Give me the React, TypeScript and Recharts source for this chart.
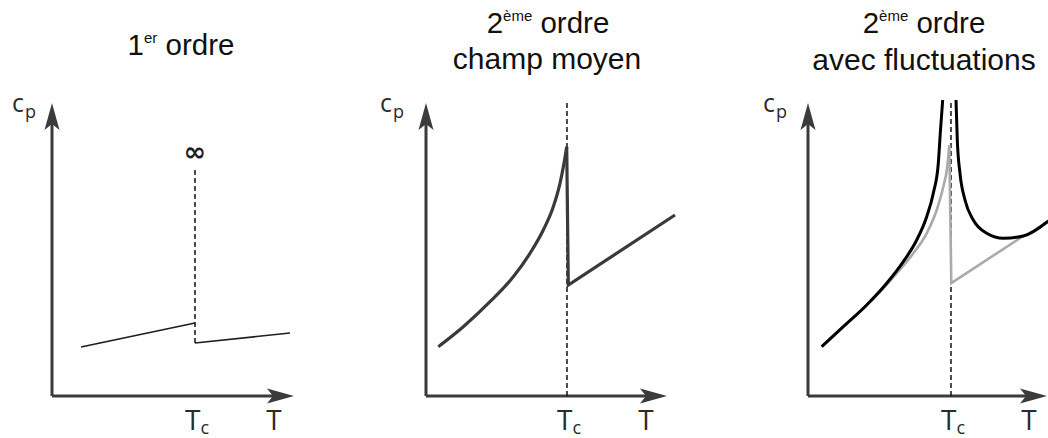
import { LineChart, Line, XAxis, YAxis, ReferenceLine, ReferenceDot } from "recharts";

// local units: T measured from the origin, cp measured up from the T axis
const firstBelow = [
  { t: 29, cp: 49 },
  { t: 143, cp: 73 },
];
const firstAbove = [
  { t: 143, cp: 53 },
  { t: 238, cp: 63 },
];

const meanBelow = [
  { t: 12.3, cp: 49.3 },
  { t: 37.3, cp: 69.3 },
  { t: 64, cp: 94.3 },
  { t: 87.3, cp: 119.3 },
  { t: 104, cp: 142.7 },
  { t: 117.3, cp: 166 },
  { t: 127.3, cp: 189.3 },
  { t: 134, cp: 212.7 },
  { t: 138, cp: 232.7 },
  { t: 140.7, cp: 249.3 },
];
const meanJump = [
  { t: 140.7, cp: 249.3 },
  { t: 142.3, cp: 111 },
  { t: 249, cp: 181 },
];

const flucBelow = [
  { t: 13.7, cp: 49.3 },
  { t: 35.3, cp: 69.3 },
  { t: 58.7, cp: 91 },
  { t: 78.7, cp: 112.7 },
  { t: 95.3, cp: 134.3 },
  { t: 108.7, cp: 156 },
  { t: 118.7, cp: 179.3 },
  { t: 125.3, cp: 202.7 },
  { t: 130.3, cp: 232.7 },
  { t: 132.5, cp: 266 },
  { t: 134.7, cp: 296 },
];
const flucAbove = [
  { t: 148, cp: 296 },
  { t: 149.3, cp: 256 },
  { t: 152, cp: 222.7 },
  { t: 157, cp: 196 },
  { t: 165.3, cp: 176 },
  { t: 178.7, cp: 162.7 },
  { t: 195.3, cp: 157.7 },
  { t: 215.3, cp: 160 },
  { t: 240.3, cp: 175 },
];
const greyBelow = [
  { t: 13.7, cp: 49.3 },
  { t: 35.3, cp: 69.3 },
  { t: 58.7, cp: 91 },
  { t: 73.7, cp: 106 },
  { t: 88.7, cp: 122.7 },
  { t: 105.3, cp: 142.7 },
  { t: 118.7, cp: 162.7 },
  { t: 128.7, cp: 186 },
  { t: 135.3, cp: 209.3 },
  { t: 139.3, cp: 229.3 },
  { t: 141.3, cp: 251 },
];
const greyJump = [
  { t: 141.3, cp: 251 },
  { t: 143.3, cp: 113 },
  { t: 215.3, cp: 160 },
];

const tcValues = [143, 141, 143];
const tLabelValues = [222, 220, 221];
const axisEnds = [242, 241, 239];
const axisTop = 293;

const AXIS = "#3b3b3b";
const LABEL_FONT = "'Open Sans', 'Noto Sans', sans-serif";
const TITLE_FONT = "'Liberation Sans', Arial, sans-serif";
const Y_MIN = -8;
const Y_MAX = 320;
const ORIGIN_Y = 396;

function ArrowLine(props: any) {
  const { x1, y1, x2, y2 } = props;
  const dx = x2 - x1;
  const dy = y2 - y1;
  const len = Math.sqrt(dx * dx + dy * dy) || 1;
  const ux = dx / len;
  const uy = dy / len;
  const nx = -uy;
  const ny = ux;
  const L = 27;
  const hw = 7.5;
  const bx = x2 - L * ux;
  const by = y2 - L * uy;
  const head = [
    `${x2},${y2}`,
    `${bx + hw * nx},${by + hw * ny}`,
    `${x2 - (L - 6) * ux},${y2 - (L - 6) * uy}`,
    `${bx - hw * nx},${by - hw * ny}`,
  ].join(" ");
  return (
    <g>
      <line x1={x1} y1={y1} x2={x2 - 14 * ux} y2={y2 - 14 * uy} stroke={AXIS} strokeWidth={3} />
      <polygon points={head} fill={AXIS} />
    </g>
  );
}

function TempTick(props: any) {
  const { x, y, payload, tc } = props;
  const isTc = payload.value === tc;
  return (
    <text x={x + (isTc ? 2 : 0)} y={y + 26} textAnchor="middle" fontFamily={LABEL_FONT} fontSize={28} fill="#2b2b2b">
      T
      {isTc && (
        <tspan fontSize={18} dy={4}>
          c
        </tspan>
      )}
    </text>
  );
}

function CpLabel(props: any) {
  const { cx, cy } = props;
  return (
    <text x={cx} y={cy} fontFamily={LABEL_FONT} fontSize={25} fill="#2b2b2b">
      c
      <tspan fontSize={18} dy={6} dx={1}>
        p
      </tspan>
    </text>
  );
}

function InfinityMark(props: any) {
  const { cx, cy } = props;
  return (
    <text
      x={cx}
      y={cy + 8}
      textAnchor="middle"
      fontFamily="'DejaVu Sans', sans-serif"
      fontWeight="bold"
      fontSize={27}
      fill="#1e1e1e"
    >
      ∞
    </text>
  );
}

function Panel({ index, originX, cpX, children }: any) {
  const W = axisEnds[index];
  const tc = tcValues[index];
  return (
    <div style={{ position: "absolute", left: originX - 50, top: ORIGIN_Y - Y_MAX }}>
      <LineChart width={50 + W + 14} height={Y_MAX - Y_MIN + 34} margin={{ top: 0, right: 0, bottom: 0, left: 0 }}>
        <XAxis
          type="number"
          dataKey="t"
          domain={[-50, W + 14]}
          ticks={[tc, tLabelValues[index]]}
          interval={0}
          axisLine={false}
          tickLine={false}
          tickSize={0}
          tickMargin={0}
          height={34}
          tick={<TempTick tc={tc} />}
        />
        <YAxis type="number" hide domain={[Y_MIN, Y_MAX]} />
        <ReferenceLine segment={[{ x: 0, y: 0 }, { x: W, y: 0 }]} shape={ArrowLine} />
        <ReferenceLine segment={[{ x: 0, y: 0 }, { x: 0, y: axisTop }]} shape={ArrowLine} />
        <ReferenceDot x={cpX} y={284} shape={CpLabel} />
        {children}
      </LineChart>
    </div>
  );
}

export default function App() {
  return (
    <div
      style={{
        position: "absolute",
        left: 0,
        top: 0,
        width: 1048,
        height: 438,
        overflow: "hidden",
        background: "#fff",
      }}
    >
      <svg width={1048} height={438} style={{ position: "absolute", left: 0, top: 0 }}>
        <g fontFamily={TITLE_FONT} fill="#111" textAnchor="middle" style={{ whiteSpace: "pre" }}>
          <text x={181} y={55} fontSize={29.5}>
            1<tspan fontSize={15} dy={-12}>er</tspan>
            <tspan dy={12}> ordre</tspan>
          </text>
          <text x={548} y={33} fontSize={29.5}>
            2<tspan fontSize={15} dy={-12}>ème</tspan>
            <tspan dy={12}> ordre</tspan>
          </text>
          <text x={547} y={69} fontSize={30}>
            champ moyen
          </text>
          <text x={924} y={33} fontSize={29.5}>
            2<tspan fontSize={15} dy={-12}>ème</tspan>
            <tspan dy={12}> ordre</tspan>
          </text>
          <text x={924} y={70} fontSize={30}>
            avec fluctuations
          </text>
        </g>
      </svg>

      <Panel index={0} originX={52} cpX={-40}>
        <ReferenceLine
          segment={[{ x: tcValues[0], y: 53 }, { x: tcValues[0], y: 227 }]}
          stroke="#111"
          strokeWidth={1.5}
          strokeDasharray="5 3"
        />
        <Line data={firstBelow} dataKey="cp" type="linear" dot={false} stroke="#1e1e1e" strokeWidth={1.6} isAnimationActive={false} />
        <Line data={firstAbove} dataKey="cp" type="linear" dot={false} stroke="#1e1e1e" strokeWidth={1.6} isAnimationActive={false} />
        <ReferenceDot x={tcValues[0]} y={243} shape={InfinityMark} />
      </Panel>

      <Panel index={1} originX={426} cpX={-46}>
        <ReferenceLine
          segment={[{ x: tcValues[1], y: 0 }, { x: tcValues[1], y: 294 }]}
          stroke="#111"
          strokeWidth={1.5}
          strokeDasharray="5 3"
        />
        <Line data={meanBelow} dataKey="cp" type="monotone" dot={false} stroke="#3a3a3a" strokeWidth={3.2} isAnimationActive={false} />
        <Line data={meanJump} dataKey="cp" type="linear" dot={false} stroke="#3a3a3a" strokeWidth={3.2} isAnimationActive={false} />
      </Panel>

      <Panel index={2} originX={808} cpX={-45}>
        <ReferenceLine
          segment={[{ x: tcValues[2], y: 0 }, { x: tcValues[2], y: 296 }]}
          stroke="#111"
          strokeWidth={1.5}
          strokeDasharray="5 3"
        />
        <Line data={greyBelow} dataKey="cp" type="monotone" dot={false} stroke="#aaaaaa" strokeWidth={2.6} isAnimationActive={false} />
        <Line data={greyJump} dataKey="cp" type="linear" dot={false} stroke="#aaaaaa" strokeWidth={2.6} isAnimationActive={false} />
        <Line data={flucBelow} dataKey="cp" type="monotone" dot={false} stroke="#000" strokeWidth={3} isAnimationActive={false} />
        <Line data={flucAbove} dataKey="cp" type="monotone" dot={false} stroke="#000" strokeWidth={3} isAnimationActive={false} />
      </Panel>
    </div>
  );
}
